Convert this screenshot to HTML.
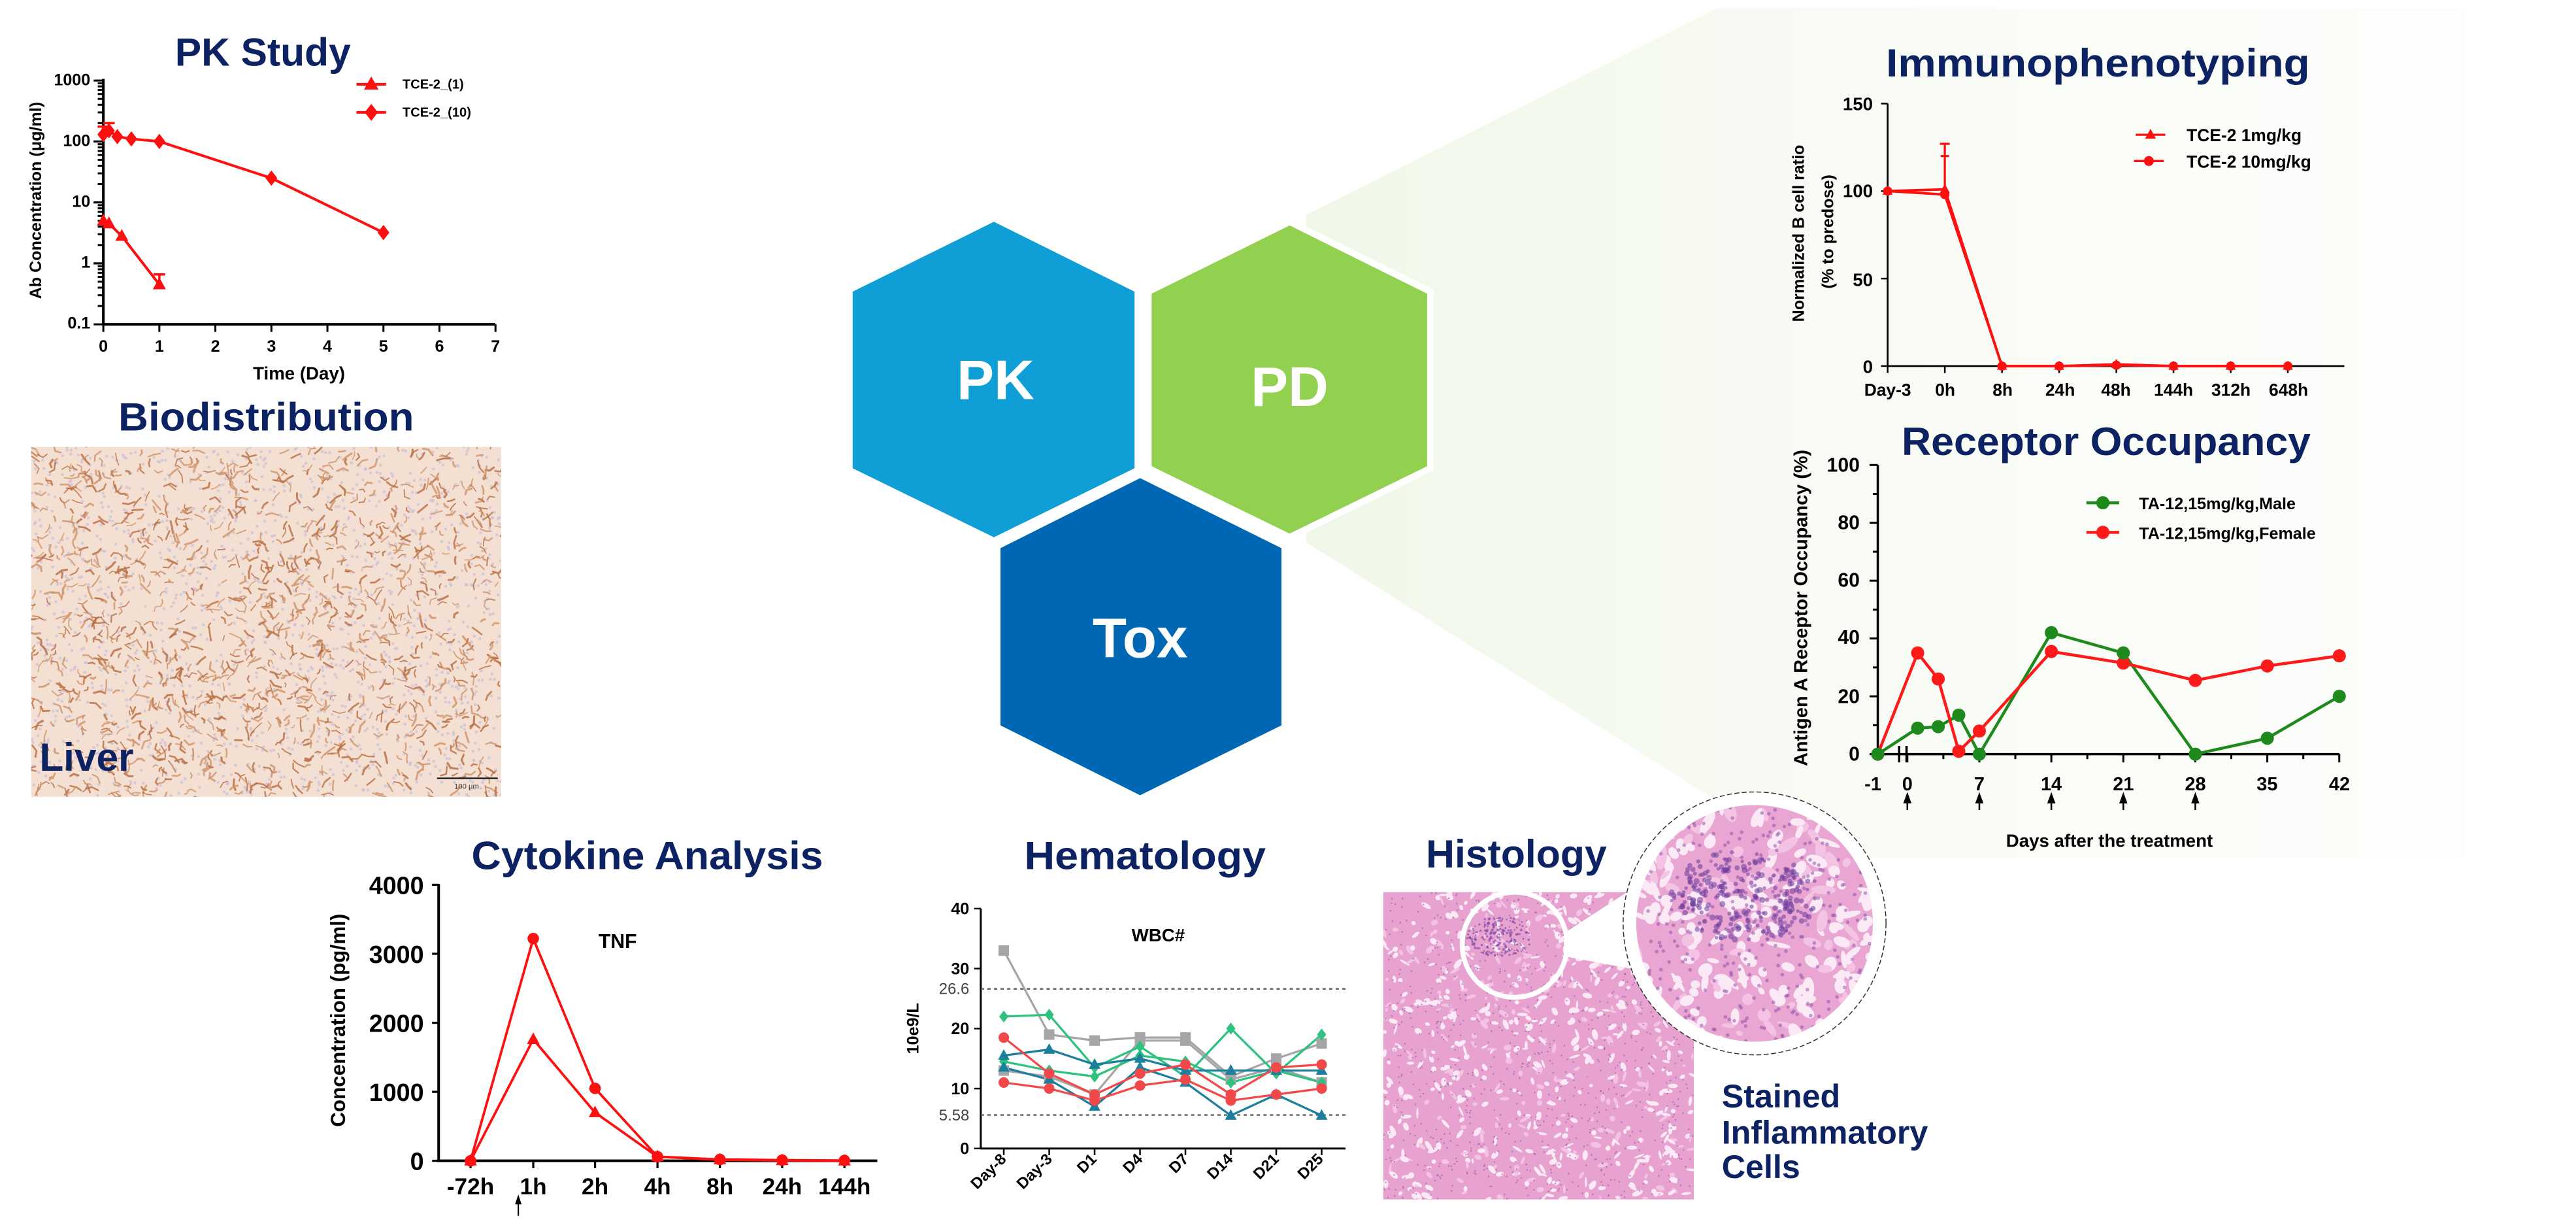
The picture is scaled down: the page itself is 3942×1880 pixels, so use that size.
<!DOCTYPE html>
<html><head><meta charset="utf-8"><style>
html,body{margin:0;padding:0;background:#fff;}
svg{display:block;}
.t{font-family:"Liberation Sans",sans-serif;font-weight:bold;fill:#0c2262;}
.a{font-family:"Liberation Sans",sans-serif;font-weight:bold;fill:#000;}
</style></head><body>
<svg id="s" xmlns="http://www.w3.org/2000/svg" width="3942" height="1880" viewBox="0 0 1568 748" preserveAspectRatio="none">
<defs>
<linearGradient id="wg" x1="0" y1="0" x2="1" y2="0">
<stop offset="0" stop-color="#f0f7e8"/><stop offset="0.45" stop-color="#f8fbf4"/><stop offset="1" stop-color="#fdfefc"/>
</linearGradient>
<clipPath id="livc"><rect x="19" y="272" width="286" height="213"/></clipPath>
<clipPath id="hisc"><rect x="842" y="543" width="189" height="187"/></clipPath>
<clipPath id="bigc"><circle cx="1068" cy="562" r="72"/></clipPath>
</defs>
<rect width="1568" height="748" fill="#fff"/>
<polygon points="795,131 1045,5 1500,5 1500,522 1100,522 795,330" fill="url(#wg)"/>

<polygon points="605,135 690.6,177.5 690.6,285 605,327 519,285 519,177.5" fill="#0f9ed5"/>
<polygon points="785,135 870.7,177.5 870.7,285 785,327 699,285 699,177.5" fill="#92d050" stroke="#fff" stroke-width="4"/>
<polygon points="694,291 780,333.6 780,441.5 694,484 609,441.5 609,333.6" fill="#0067b4"/>
<text x="606" y="243" class="a" style="fill:#fff" font-size="34" text-anchor="middle">PK</text>
<text x="785" y="247" class="a" style="fill:#fff" font-size="34" text-anchor="middle">PD</text>
<text x="694" y="400" class="a" style="fill:#fff" font-size="34" text-anchor="middle">Tox</text>

<text x="160" y="40" class="t" font-size="24" text-anchor="middle" textLength="107" lengthAdjust="spacingAndGlyphs">PK Study</text>
<g stroke="#000" stroke-width="1.6" fill="none">
<line x1="62.9" y1="48" x2="62.9" y2="198"/><line x1="62" y1="197.4" x2="301.5" y2="197.4"/>
</g>
<g id="pkticks" stroke="#000" stroke-width="1.2"></g>
<g class="a" font-size="10" text-anchor="end">
<text x="55" y="52">1000</text><text x="55" y="89">100</text><text x="55" y="126">10</text><text x="55" y="163">1</text><text x="55" y="200">0.1</text>
</g>
<g class="a" font-size="10" text-anchor="middle">
<text x="62.9" y="214">0</text><text x="97" y="214">1</text><text x="131.1" y="214">2</text><text x="165.2" y="214">3</text><text x="199.3" y="214">4</text><text x="233.4" y="214">5</text><text x="267.5" y="214">6</text><text x="301.6" y="214">7</text>
<text x="182" y="231" font-size="11">Time (Day)</text>
</g>
<text class="a" font-size="10" text-anchor="middle" transform="translate(25,122) rotate(-90)">Ab Concentration (μg/ml)</text>
<g id="pkdata"></g>
<g class="a" font-size="8"><text x="245" y="54">TCE-2_(1)</text><text x="245" y="71">TCE-2_(10)</text></g>

<text x="162" y="262" class="t" font-size="24" text-anchor="middle" textLength="180" lengthAdjust="spacingAndGlyphs">Biodistribution</text>
<rect x="19" y="272" width="286" height="213" fill="#f4e0d3"/>
<g id="liver" clip-path="url(#livc)"></g>
<text x="24" y="469" class="t" font-size="24">Liver</text>
<line x1="266" y1="473.7" x2="303" y2="473.7" stroke="#222" stroke-width="1"/>
<text x="284" y="480" font-family="Liberation Sans,sans-serif" font-size="4.5" fill="#333" text-anchor="middle">100 μm</text>

<text x="1277" y="46.5" class="t" font-size="24" text-anchor="middle" textLength="258" lengthAdjust="spacingAndGlyphs">Immunophenotyping</text>
<g stroke="#000" stroke-width="1.1" fill="none">
<line x1="1149" y1="63" x2="1149" y2="223"/><line x1="1149" y1="222.8" x2="1427" y2="222.8"/>
</g>
<g id="imticks" stroke="#000" stroke-width="1"></g>
<g class="a" font-size="11" text-anchor="end">
<text x="1140" y="67">150</text><text x="1140" y="120">100</text><text x="1140" y="174">50</text><text x="1140" y="227">0</text>
</g>
<g class="a" font-size="10.5" text-anchor="middle">
<text x="1149" y="241">Day-3</text><text x="1184" y="241">0h</text><text x="1219" y="241">8h</text><text x="1254" y="241">24h</text><text x="1288" y="241">48h</text><text x="1323" y="241">144h</text><text x="1358" y="241">312h</text><text x="1393" y="241">648h</text>
</g>
<text class="a" font-size="10" text-anchor="middle" transform="translate(1098,142) rotate(-90)">Normalized B cell ratio</text>
<text class="a" font-size="10" text-anchor="middle" transform="translate(1116,141) rotate(-90)">(% to predose)</text>
<g id="imdata"></g>
<g class="a" font-size="10.5"><text x="1331" y="86">TCE-2 1mg/kg</text><text x="1331" y="102">TCE-2 10mg/kg</text></g>

<text x="1282" y="277" class="t" font-size="24" text-anchor="middle" textLength="249" lengthAdjust="spacingAndGlyphs">Receptor Occupancy</text>
<g stroke="#000" stroke-width="1.4" fill="none">
<line x1="1143" y1="283" x2="1143" y2="459.5"/><line x1="1143" y1="459" x2="1424" y2="459"/>
<line x1="1156" y1="454" x2="1156" y2="464"/><line x1="1160.5" y1="454" x2="1160.5" y2="464"/>
</g>
<g id="roticks" stroke="#000" stroke-width="1.2"></g>
<g class="a" font-size="12" text-anchor="end">
<text x="1132" y="287">100</text><text x="1132" y="322">80</text><text x="1132" y="357">60</text><text x="1132" y="392">40</text><text x="1132" y="428">20</text><text x="1132" y="463">0</text>
</g>
<g class="a" font-size="11.5" text-anchor="middle">
<text x="1140" y="481">-1</text><text x="1161" y="481">0</text><text x="1204.8" y="481">7</text><text x="1248.6" y="481">14</text><text x="1292.5" y="481">21</text><text x="1336.3" y="481">28</text><text x="1380" y="481">35</text><text x="1424" y="481">42</text>
<text x="1284" y="515.5" font-size="11">Days after the treatment</text>
</g>
<g id="roarrows" fill="#000"></g>
<text class="a" font-size="11.5" text-anchor="middle" transform="translate(1100,370) rotate(-90)">Antigen A Receptor Occupancy (%)</text>
<g id="rodata"></g>
<g class="a" font-size="10"><text x="1302" y="310">TA-12,15mg/kg,Male</text><text x="1302" y="328">TA-12,15mg/kg,Female</text></g>

<text x="394" y="529" class="t" font-size="24" text-anchor="middle" textLength="214" lengthAdjust="spacingAndGlyphs">Cytokine Analysis</text>
<g stroke="#000" stroke-width="1.6" fill="none">
<line x1="267" y1="538" x2="267" y2="707"/><line x1="266" y1="706.5" x2="534" y2="706.5"/>
</g>
<g id="cyticks" stroke="#000" stroke-width="1.3"></g>
<g class="a" font-size="15" text-anchor="end">
<text x="258" y="544">4000</text><text x="258" y="586">3000</text><text x="258" y="628">2000</text><text x="258" y="670">1000</text><text x="258" y="712">0</text>
</g>
<g class="a" font-size="14" text-anchor="middle">
<text x="286.4" y="727">-72h</text><text x="324.6" y="727">1h</text><text x="362.2" y="727">2h</text><text x="400.2" y="727">4h</text><text x="438.2" y="727">8h</text><text x="476.1" y="727">24h</text><text x="514" y="727">144h</text>
</g>
<text x="376" y="577" class="a" font-size="12" text-anchor="middle">TNF</text>
<text class="a" font-size="12.5" text-anchor="middle" transform="translate(210,621) rotate(-90)">Concentration (pg/ml)</text>
<line x1="315.5" y1="732" x2="315.5" y2="740" stroke="#000" stroke-width="0.8"/><polygon points="313.5,733 317.5,733 315.5,727" fill="#000"/>
<g id="cydata"></g>

<text x="697" y="529" class="t" font-size="24" text-anchor="middle" textLength="147" lengthAdjust="spacingAndGlyphs">Hematology</text>
<g stroke="#000" stroke-width="1.2" fill="none">
<line x1="597" y1="553" x2="597" y2="699.5"/><line x1="597" y1="699" x2="819" y2="699"/>
</g>
<g stroke="#555" stroke-width="0.9" stroke-dasharray="2,2"><line x1="597" y1="601.9" x2="819" y2="601.9"/><line x1="597" y1="678.6" x2="819" y2="678.6"/></g>
<g id="heticks" stroke="#000" stroke-width="1"></g>
<g class="a" font-size="10" text-anchor="end">
<text x="590" y="556.5">40</text><text x="590" y="593">30</text><text x="590" y="666">10</text><text x="590" y="702.5">0</text><text x="590" y="629.5">20</text>
</g>
<g font-family="Liberation Sans,sans-serif" font-size="9.5" fill="#444" text-anchor="end"><text x="590" y="605">26.6</text><text x="590" y="682">5.58</text></g>
<text x="705" y="573" class="a" font-size="11" text-anchor="middle">WBC#</text>
<text class="a" font-size="10" text-anchor="middle" transform="translate(559,626) rotate(-90)">10e9/L</text>
<g class="a" font-size="9.5" text-anchor="end">
<text transform="translate(613,706) rotate(-45)">Day-8</text>
<text transform="translate(641,706) rotate(-45)">Day-3</text>
<text transform="translate(668,706) rotate(-45)">D1</text>
<text transform="translate(696,706) rotate(-45)">D4</text>
<text transform="translate(724,706) rotate(-45)">D7</text>
<text transform="translate(751,706) rotate(-45)">D14</text>
<text transform="translate(779,706) rotate(-45)">D21</text>
<text transform="translate(806,706) rotate(-45)">D25</text>
</g>
<g id="hedata"></g>

<text x="923" y="528" class="t" font-size="24" text-anchor="middle" textLength="110" lengthAdjust="spacingAndGlyphs">Histology</text>
<rect x="842" y="543" width="189" height="187" fill="#e7a2cf"/>
<g id="histo" clip-path="url(#hisc)"></g>
<polygon points="952,568 995,540 995,590 952,582" fill="#fff"/>
<circle cx="922" cy="575" r="32" fill="none" stroke="#fff" stroke-width="3"/>
<circle cx="1068" cy="562" r="80" fill="#fff" stroke="#333" stroke-width="0.6" stroke-dasharray="3,1.5"/>
<circle cx="1068" cy="562" r="72" fill="#e9a6d2"/>
<g id="bighis" clip-path="url(#bigc)"></g>
<g class="t" font-size="20"><text x="1048" y="674">Stained</text><text x="1048" y="696">Inflammatory</text><text x="1048" y="717">Cells</text></g>
</svg>
<script>
(function(){
var NS="http://www.w3.org/2000/svg";
function el(p,n,a){var e=document.createElementNS(NS,n);for(var k in a)e.setAttribute(k,a[k]);document.getElementById(p).appendChild(e);return e;}
var seed=7;function R(){seed=(seed*16807)%2147483647;return (seed-1)/2147483646;}
function line(p,pts,c,w){el(p,"polyline",{points:pts.map(function(q){return q[0]+","+q[1]}).join(" "),fill:"none",stroke:c,"stroke-width":w||1.5});}
function mark(p,t,x,y,s,c){
 if(t=="c")el(p,"circle",{cx:x,cy:y,r:s,fill:c});
 else if(t=="t")el(p,"polygon",{points:[x,y-s*1.2,x+s*1.1,y+s*0.8,x-s*1.1,y+s*0.8].join(","),fill:c});
 else if(t=="d")el(p,"polygon",{points:[x,y-s*1.3,x+s,y,x,y+s*1.3,x-s,y].join(","),fill:c});
 else if(t=="s")el(p,"rect",{x:x-s,y:y-s,width:2*s,height:2*s,fill:c});
}
var RED="#ff1010";
function PX(d){return 62.9+34.1*d}function PY(v){return 197.4-37.1*(Math.log10(v)+1)}
for(var i=0;i<=7;i++)el("pkticks","line",{x1:PX(i),y1:197.4,x2:PX(i),y2:202});
for(var dcd=-1;dcd<3;dcd++)for(var m=1;m<=10;m++){var y=PY(m*Math.pow(10,dcd));el("pkticks","line",{x1:m==10||m==1?57:59.5,y1:y,x2:62.9,y2:y});}
var A=[[0,130],[0.1,150],[0.25,120],[0.5,110],[1,100],[3,25],[5,3.2]],B=[[0,5],[0.1,4.5],[0.33,2.8],[1,0.45]];
line("pkdata",A.map(function(q){return[PX(q[0]),PY(q[1])]}),RED,1.6);
line("pkdata",B.map(function(q){return[PX(q[0]),PY(q[1])]}),RED,1.6);
A.forEach(function(q){mark("pkdata","d",PX(q[0]),PY(q[1]),3.6,RED)});
B.forEach(function(q){mark("pkdata","t",PX(q[0]),PY(q[1]),3.6,RED)});
el("pkdata","path",{d:"M"+PX(0)+" "+PY(130)+"V"+PY(175)+"M"+(PX(0)-3.5)+" "+PY(175)+"h7M"+PX(0.1)+" "+PY(150)+"V"+PY(200)+"M"+(PX(0.1)-3.5)+" "+PY(200)+"h7M"+PX(1)+" "+PY(0.45)+"V"+PY(0.66)+"M"+(PX(1)-3.5)+" "+PY(0.66)+"h7",stroke:RED,"stroke-width":1.4,fill:"none"});
el("pkdata","line",{x1:217,y1:51.3,x2:235,y2:51.3,stroke:RED,"stroke-width":1.6});mark("pkdata","t",226,51.3,4,RED);
el("pkdata","line",{x1:217,y1:68.4,x2:235,y2:68.4,stroke:RED,"stroke-width":1.6});mark("pkdata","d",226,68.4,4,RED);
function IX(i){return 1149+34.8*i}function IY(v){return 222.8-1.065*v}
[0,50,100,150].forEach(function(v){el("imticks","line",{x1:1145,y1:IY(v),x2:1149,y2:IY(v)})});
for(var i=0;i<8;i++)el("imticks","line",{x1:IX(i),y1:222.8,x2:IX(i),y2:227});
var T1=[100,101,0,0,1,0,0,0],T2=[100,98,0,0,0.5,0,0,0];
line("imdata",T1.map(function(v,i){return[IX(i),IY(v)]}),RED,1.5);
line("imdata",T2.map(function(v,i){return[IX(i),IY(v)]}),RED,1.5);
el("imdata","path",{d:"M"+IX(1)+" "+IY(101)+"V"+IY(127)+"M"+(IX(1)-3)+" "+IY(127)+"h6M"+(IX(1)-2.5)+" "+IY(120)+"h5",stroke:RED,"stroke-width":1.3,fill:"none"});
T1.forEach(function(v,i){mark("imdata","t",IX(i),IY(v),2.8,RED)});
T2.forEach(function(v,i){mark("imdata","c",IX(i),IY(v),2.8,RED)});
el("imdata","line",{x1:1300,y1:82,x2:1318,y2:82,stroke:RED,"stroke-width":1.3});mark("imdata","t",1309,82,3,RED);
el("imdata","line",{x1:1299,y1:98,x2:1317,y2:98,stroke:RED,"stroke-width":1.3});mark("imdata","c",1308,98,3,RED);
function RX(d){return d==-1?1143:1161+6.26*d}function RY(v){return 459-1.76*v}
for(var v=0;v<=100;v+=10)el("roticks","line",{x1:v%20?1140:1138,y1:RY(v),x2:1143,y2:RY(v)});
for(var d=0;d<=42;d+=3.5)el("roticks","line",{x1:RX(d),y1:459,x2:RX(d),y2:d%7?462:464});
[0,7,14,21,28].forEach(function(d){var x=RX(d);el("roarrows","polygon",{points:(x-2.5)+",489 "+(x+2.5)+",489 "+x+",482"});el("roarrows","rect",{x:x-0.5,y:488,width:1,height:5});});
var GX=[-1,1,3,5,7,14,21,28,35,42],G=[0,9,9.5,13.5,0,42,35,0,5.5,20],Rr=[0,35,26,1,8,35.5,31.5,25.5,30.5,34];
var GR="#1e8a1e",RR="#ff1a1a";
line("rodata",GX.map(function(d,i){return[RX(d),RY(G[i])]}),GR,1.8);
line("rodata",GX.map(function(d,i){return[RX(d),RY(Rr[i])]}),RR,1.8);
GX.forEach(function(d,i){mark("rodata","c",RX(d),RY(Rr[i]),4,RR)});
GX.forEach(function(d,i){mark("rodata","c",RX(d),RY(G[i]),4,GR)});
el("rodata","line",{x1:1270,y1:306,x2:1290,y2:306,stroke:GR,"stroke-width":1.8});mark("rodata","c",1280,306,4,GR);
el("rodata","line",{x1:1270,y1:324,x2:1290,y2:324,stroke:RR,"stroke-width":1.8});mark("rodata","c",1280,324,4,RR);
var CX=[286.4,324.6,362.2,400.2,438.2,476.1,514];function CY(v){return 706.5-0.042*v}
[0,1000,2000,3000,4000].forEach(function(v){el("cyticks","line",{x1:263,y1:CY(v),x2:267,y2:CY(v)})});
CX.forEach(function(x){el("cyticks","line",{x1:x,y1:706.5,x2:x,y2:711})});
var C1=[0,3220,1050,60,20,10,5],C2=[0,1760,700,60,15,5,0];
line("cydata",C1.map(function(v,i){return[CX[i],CY(v)]}),RED,1.5);
line("cydata",C2.map(function(v,i){return[CX[i],CY(v)]}),RED,1.5);
C1.forEach(function(v,i){mark("cydata","c",CX[i],CY(v),3.5,RED)});
C2.forEach(function(v,i){mark("cydata","t",CX[i],CY(v),3.5,RED)});
function HX(i){return 611+27.64*i}function HY(v){return 699-3.65*v}
[0,10,20,30,40].forEach(function(v){el("heticks","line",{x1:593,y1:HY(v),x2:597,y2:HY(v)})});
for(var i=0;i<8;i++)el("heticks","line",{x1:HX(i),y1:699,x2:HX(i),y2:703});
var S=[
["#a6a6a8","s",[33,19,18,18.5,18.5,12,15,17.5]],
["#a6a6a8","s",[13,12,9,18,18,11.5,13.5,11]],
["#2ec27e","d",[22,22.3,13.5,17,12,20,12.5,19]],
["#2ec27e","d",[14.5,13,12,15.5,14.5,11,13,11]],
["#1b7f9e","t",[15.5,16.5,14,15,13,13,13,13]],
["#1b7f9e","t",[13.5,11.5,7,13.5,11,5.5,9,5.5]],
["#f2484a","c",[18.5,12.5,9,12.5,14,9,13.5,14]],
["#f2484a","c",[11,10,8,10.5,11.5,8,9,10]]];
S.forEach(function(s){line("hedata",s[2].map(function(v,i){return[HX(i),HY(v)]}),s[0],1.3);});
S.forEach(function(s){s[2].forEach(function(v,i){mark("hedata",s[1],HX(i),HY(v),s[1]=="d"?2.8:3.2,s[0])})});
// Liver texture: finer reticular
for(var k=0;k<1500;k++)el("liver","circle",{cx:19+R()*286,cy:272+R()*213,r:0.9,fill:"#cbbdd6",opacity:0.7});
for(var k=0;k<1400;k++){var x=19+R()*286,y=272+R()*213,a=R()*6.28,l=1.5+R()*3;
 var x2=x+Math.cos(a)*l,y2=y+Math.sin(a)*l,a2=a+(R()-0.5)*2.4,x3=x2+Math.cos(a2)*l*0.8,y3=y2+Math.sin(a2)*l*0.8;
 el("liver","path",{d:"M"+x+" "+y+"L"+x2+" "+y2+"L"+x3+" "+y3,stroke:R()<0.5?"#b96d40":"#cf936a","stroke-width":0.6+R()*0.7,fill:"none","stroke-linecap":"round",opacity:0.8});}
// Histology texture
function tex(p,x0,y0,w,h,n,sc,cx,cy,crx,cry,cn){
 for(var k=0;k<n;k++){var x=x0+R()*w,y=y0+R()*h;el(p,"ellipse",{cx:x,cy:y,rx:(1+R()*2.5)*sc,ry:(0.6+R()*1.2)*sc,transform:"rotate("+(R()*180)+" "+x+" "+y+")",fill:R()<0.7?"#fbeaf6":"#f4c2e3"});}
 for(var k=0;k<n*1.3;k++){var x=x0+R()*w,y=y0+R()*h;el(p,"circle",{cx:x,cy:y,r:0.5*sc,fill:"#8a4aa8",opacity:0.5});}
 for(var k=0;k<cn;k++){var r=Math.sqrt(R()),a=R()*6.28;el(p,"circle",{cx:cx+Math.cos(a)*r*crx,cy:cy+Math.sin(a)*r*cry,r:0.45*sc+R()*0.4*sc,fill:"#6a3a9c",opacity:0.55});}
}
tex("histo",842,543,189,187,700,1,913,570,20,12,180);
tex("bighis",996,490,144,144,260,2.2,1062,545,45,28,260);
})();
</script>
</body></html>
